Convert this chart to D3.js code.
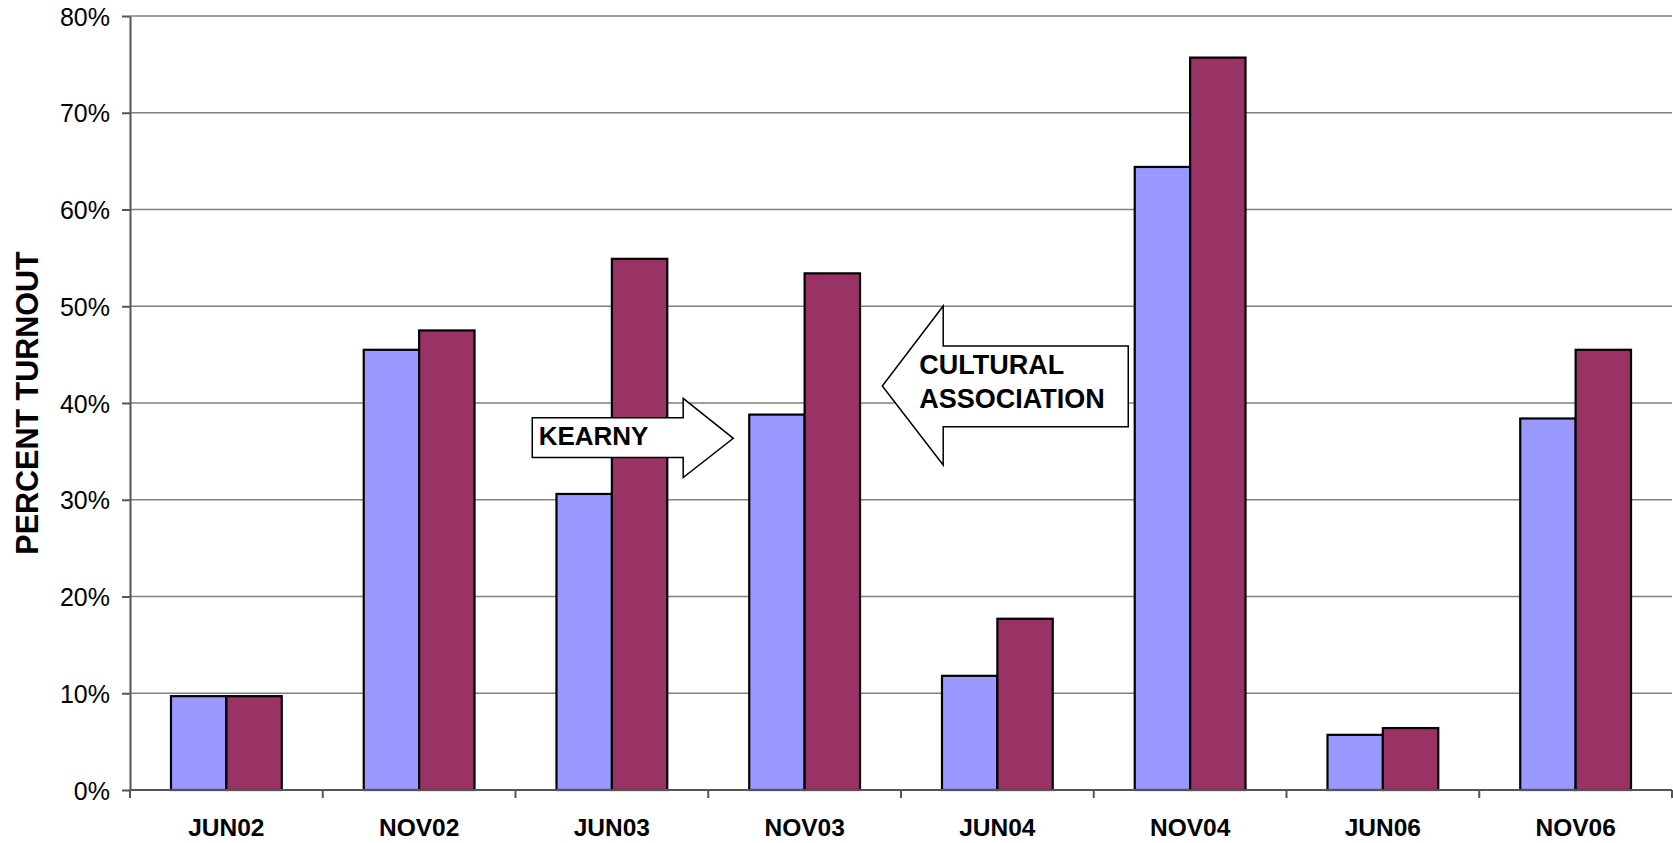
<!DOCTYPE html>
<html>
<head>
<meta charset="utf-8">
<script src="https://cdn.jsdelivr.net/npm/d3@7"></script>
<style>
  html, body { margin: 0; padding: 0; background: #fff; }
  svg { display: block; font-family: "Liberation Sans", Arial, sans-serif; }
</style>
</head>
<body>
<svg id="chart" width="1673" height="843"></svg>
<script>
// Election periods and turnout (percent) for the two groups
const categories = ["JUN02", "NOV02", "JUN03", "NOV03", "JUN04", "NOV04", "JUN06", "NOV06"];
const seriesNames = ["Kearny", "Cultural Association"];
const kearnyTurnout = [9.7, 45.5, 30.6, 38.8, 11.8, 64.4, 5.7, 38.4];
const culturalTurnout = [9.7, 47.5, 54.9, 53.4, 17.7, 75.7, 6.4, 45.5];
const yTicks = [0, 10, 20, 30, 40, 50, 60, 70, 80];
const seriesColors = ["#9999FF", "#993366"];

const svg = d3.select("#chart");
const margin = { left: 130, right: 1, top: 16, bottom: 53 };
const W = 1673, H = 843;

const x0 = d3.scaleBand().domain(categories).range([margin.left, W - margin.right]).padding(0);
const x1 = d3.scaleBand().domain(seriesNames).range([0, x0.bandwidth()]).paddingInner(0).paddingOuter(0.74);
const y = d3.scaleLinear().domain([0, 80]).range([H - margin.bottom, margin.top]);

// position along the category axis in units of categories
const xAt = t => x0.range()[0] + t * x0.step();

// horizontal gridlines
svg.append("g")
  .selectAll("line")
  .data(yTicks.filter(d => d > 0))
  .join("line")
  .attr("x1", margin.left).attr("x2", W - margin.right)
  .attr("y1", d => y(d)).attr("y2", d => y(d))
  .attr("stroke", "#808080").attr("stroke-width", 1.5);

// bars
const rows = categories.map((c, i) => ({ cat: c, values: [kearnyTurnout[i], culturalTurnout[i]] }));
svg.append("g")
  .selectAll("g")
  .data(rows)
  .join("g")
  .attr("transform", d => `translate(${x0(d.cat)},0)`)
  .selectAll("rect")
  .data(d => d.values.map((v, k) => ({ key: seriesNames[k], v, k })))
  .join("rect")
  .attr("x", d => x1(d.key))
  .attr("width", x1.bandwidth())
  .attr("y", d => y(d.v))
  .attr("height", d => y(0) - y(d.v))
  .attr("fill", d => seriesColors[d.k])
  .attr("stroke", "#000")
  .attr("stroke-width", 2.2);

// y axis
const yAxis = d3.axisLeft(y).tickValues(yTicks).tickFormat(d => d + "%").tickSize(8).tickSizeOuter(0);
const gy = svg.append("g").attr("transform", `translate(${margin.left},0)`).call(yAxis);
gy.select(".domain").attr("stroke", "#555").attr("stroke-width", 2);
gy.selectAll(".tick line").attr("stroke", "#555").attr("stroke-width", 2);
gy.selectAll(".tick text")
  .attr("x", -20)
  .attr("dy", "0.36em")
  .attr("fill", "#000")
  .style("font-size", "25px")
  .style("font-family", "'Liberation Sans', Arial, sans-serif");

// x axis: tick marks sit on the category boundaries
svg.append("line")
  .attr("x1", margin.left).attr("x2", W - margin.right)
  .attr("y1", y(0)).attr("y2", y(0))
  .attr("stroke", "#555").attr("stroke-width", 2);
svg.append("g")
  .selectAll("line")
  .data(d3.range(categories.length + 1))
  .join("line")
  .attr("x1", i => xAt(i)).attr("x2", i => xAt(i))
  .attr("y1", y(0)).attr("y2", y(0) + 8)
  .attr("stroke", "#555").attr("stroke-width", 2);
svg.append("g")
  .selectAll("text")
  .data(categories)
  .join("text")
  .attr("x", d => x0(d) + x0.bandwidth() / 2)
  .attr("y", 836)
  .attr("text-anchor", "middle")
  .style("font-size", "24.5px")
  .style("font-weight", "bold")
  .text(d => d);

// y axis title
svg.append("text")
  .attr("transform", `translate(38,${(y(0) + y(80)) / 2}) rotate(-90)`)
  .attr("text-anchor", "middle")
  .style("font-size", "30.5px")
  .style("font-weight", "bold")
  .text("PERCENT TURNOUT");

// block arrow callouts naming each group
function blockArrow(pts) {
  return d3.line()(pts.map(p => [xAt(p[0]), y(p[1])])) + "Z";
}
const ann = svg.append("g");

// right-pointing arrow: KEARNY
ann.append("path")
  .attr("d", blockArrow([
    [2.087, 38.48], [2.870, 38.48], [2.870, 40.48], [3.130, 36.35],
    [2.870, 32.30], [2.870, 34.37], [2.087, 34.37]
  ]))
  .attr("fill", "#fff").attr("stroke", "#000").attr("stroke-width", 1.5);
ann.append("text")
  .attr("x", xAt(2.12)).attr("y", y(35.66))
  .style("font-size", "26px").style("font-weight", "bold")
  .text("KEARNY");

// left-pointing arrow: CULTURAL ASSOCIATION
ann.append("path")
  .attr("d", blockArrow([
    [3.903, 41.76], [4.219, 50.03], [4.219, 45.89], [5.179, 45.89],
    [5.179, 37.55], [4.219, 37.55], [4.219, 33.59]
  ]))
  .attr("fill", "#fff").attr("stroke", "#000").attr("stroke-width", 1.5);
ann.append("text")
  .attr("x", xAt(4.095)).attr("y", y(42.95))
  .style("font-size", "27px").style("font-weight", "bold")
  .text("CULTURAL");
ann.append("text")
  .attr("x", xAt(4.095)).attr("y", y(39.45))
  .style("font-size", "27px").style("font-weight", "bold")
  .text("ASSOCIATION");
</script>
</body>
</html>
